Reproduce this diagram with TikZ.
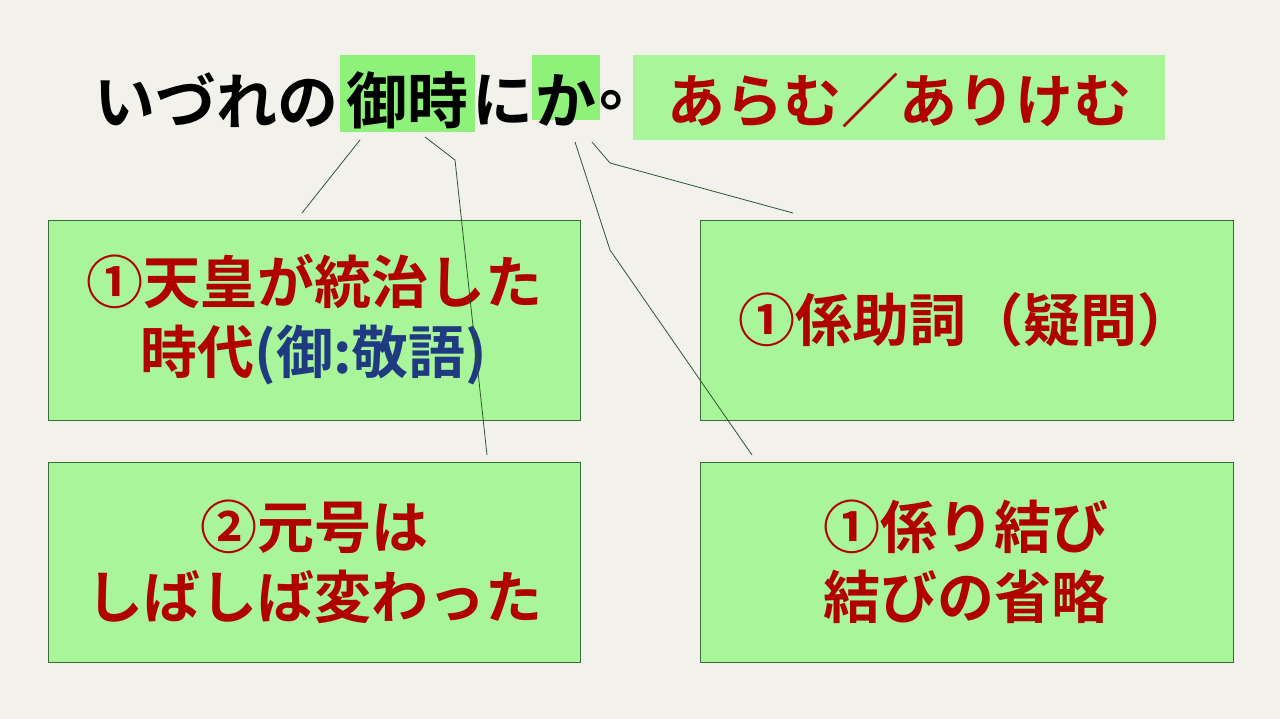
\documentclass[tikz,border=0pt]{standalone}
\usepackage{fontspec}
\newfontfamily\jp{Noto Sans CJK JP Bold}
\definecolor{bg}{HTML}{F2F1EC}
\definecolor{gbox}{HTML}{A9F59A}
\definecolor{hl}{HTML}{8EF27A}
\definecolor{dred}{HTML}{B00000}
\definecolor{dblue}{HTML}{1F3A80}
\definecolor{edge}{HTML}{3A6B3A}
\tikzset{
 box/.style={draw=edge,fill=gbox,line width=0.8pt},
 txt/.style={font=\jp\fontsize{57}{70}\selectfont,text=dred,align=center},
 ttl/.style={font=\jp\fontsize{61}{70}\selectfont,inner sep=0pt},
 lnk/.style={draw=edge!80!black,line width=0.8pt}
}
\begin{document}
\begin{tikzpicture}[x=1pt,y=-1pt]
\fill[bg] (0,0) rectangle (1280,719);
\useasboundingbox (0,0) rectangle (1280,719);
% highlights
\fill[hl] (340,55) rectangle (475,132);
\fill[hl] (532,55) rectangle (600,120);
\fill[gbox] (633,55) rectangle (1165,140);
\node[ttl,anchor=west] (t1) at (94,100) {いづれの};
\node[ttl] (t2) at (407,100) {御時};
\node[ttl] (t3) at (503,100) {に};
\node[ttl] (t4) at (566,100) {か};
\node[ttl] (t5) at (630,100) {。};
\node[txt,anchor=center,font=\jp\fontsize{58}{70}\selectfont] (alt) at (899,100) {あらむ／ありけむ};
% boxes
\draw[box] (48,220) rectangle (580,420);
\draw[box] (700,220) rectangle (1233,420);
\draw[box] (48,462) rectangle (580,662);
\draw[box] (700,462) rectangle (1233,662);
\node[txt] (a) at (314,320) {①天皇が統治した\\時代{\color{dblue}(御:敬語)}};
\node[txt] (b) at (966,320) {①係助詞（疑問）};
\node[txt] (c) at (314,562) {②元号は\\しばしば変わった};
\node[txt] (d) at (966,562) {①係り結び\\結びの省略};
% connectors
\coordinate (p1) at (360,140); \coordinate (q1) at (302,213);
\coordinate (p2) at (425,137); \coordinate (m2) at (455,160); \coordinate (q2) at (487,455);
\coordinate (p3) at (575,142); \coordinate (m3) at (610,250); \coordinate (q3) at (752,455);
\coordinate (p4) at (592,142); \coordinate (m4) at (610,163); \coordinate (q4) at (793,213);
\draw[lnk] (p1) -- (q1);
\draw[lnk] (p2) -- (m2) -- (q2);
\draw[lnk] (p3) -- (m3) -- (q3);
\draw[lnk] (p4) -- (m4) -- (q4);
\end{tikzpicture}
\end{document}
